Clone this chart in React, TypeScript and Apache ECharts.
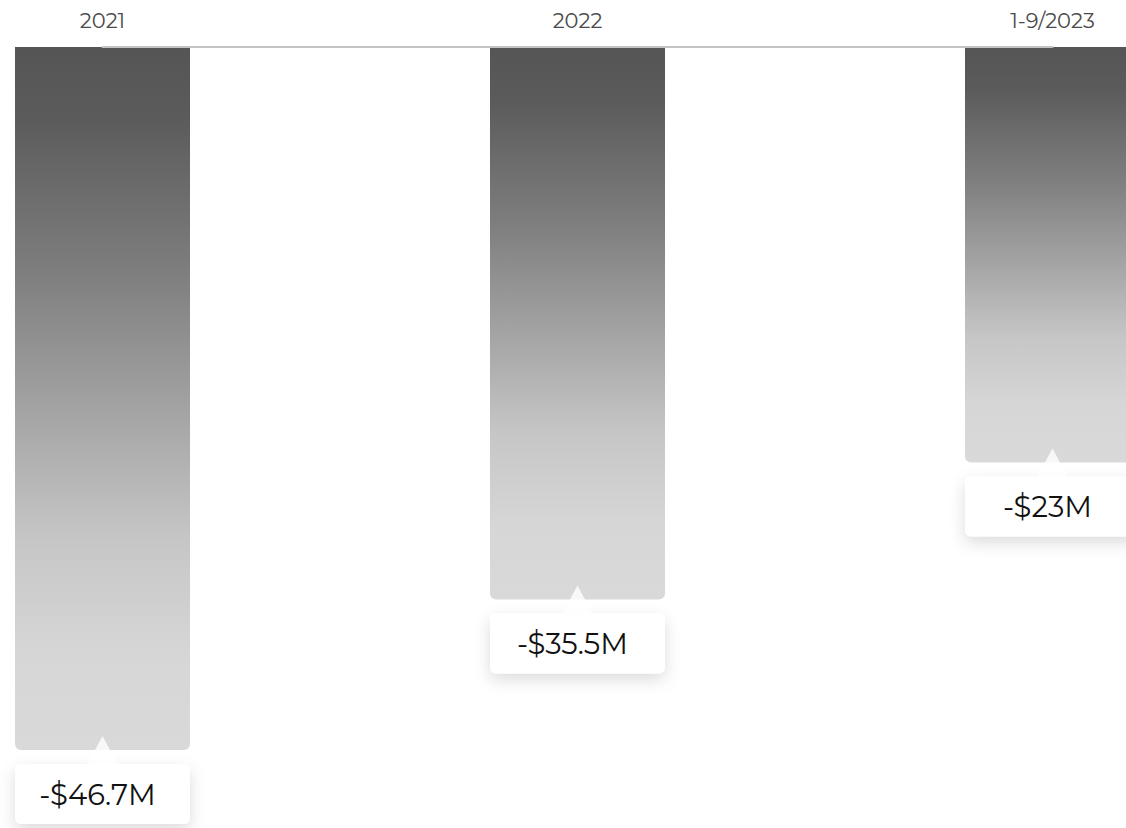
import React, { useEffect, useRef } from "react";
import * as echarts from "echarts";

const categories = ["2021", "2022", "1-9/2023"];
// amounts shown in the labels ($M)
const labelValues = [-46.7, -35.5, -23];
// bar lengths as drawn in the picture (on the same $M axis)
const barValues = [-46.7, -36.7, -27.6];

const FONT = "Montserrat, 'Noto Sans', sans-serif";

export default function App() {
  const ref = useRef<HTMLDivElement>(null);
  useEffect(() => {
    if (!ref.current) return;
    const chart = echarts.init(ref.current, undefined, { renderer: "svg" });
    const gradient = new echarts.graphic.LinearGradient(0, 0, 0, 1, [
      { offset: 0, color: "#555555" },
      { offset: 0.1, color: "#5b5b5b" },
      { offset: 0.32, color: "#7e7e7e" },
      { offset: 0.52, color: "#a4a4a4" },
      { offset: 0.7, color: "#c6c6c6" },
      { offset: 0.86, color: "#d6d6d6" },
      { offset: 1, color: "#d9d9d9" },
    ]);
    chart.setOption({
      animation: false,
      grid: { left: 102.5, right: 73.5, top: 47, bottom: 78 },
      xAxis: {
        type: "category",
        data: categories,
        position: "top",
        boundaryGap: false,
        z: 5,
        axisLine: { onZero: false, lineStyle: { color: "#c4c4c4", width: 2 } },
        axisTick: { show: false },
        axisLabel: {
          color: "#4a4a4a",
          fontSize: 21,
          fontFamily: FONT,
          margin: 16,
          interval: 0,
        },
      },
      yAxis: {
        type: "value",
        min: -46.7,
        max: 0,
        show: false,
        splitLine: { show: false },
      },
      series: [
        {
          type: "bar",
          data: barValues,
          barWidth: 175,
          itemStyle: { color: gradient, borderRadius: [0, 0, 6, 6] },
          label: {
            show: true,
            position: "bottom",
            distance: 14,
            formatter: (p: any) => {
              const v = labelValues[p.dataIndex];
              return "-$" + Math.abs(v) + "M";
            },
            color: "#111111",
            fontSize: 29,
            fontFamily: FONT,
            width: 165,
            align: "center",
            lineHeight: 30,
            padding: [15, 10, 15, 0],
            backgroundColor: "#ffffff",
            borderRadius: 6,
            shadowColor: "rgba(0,0,0,0.14)",
            shadowBlur: 16,
            shadowOffsetY: 6,
          },
          z: 2,
        },
        {
          type: "scatter",
          data: barValues,
          symbol: "triangle",
          symbolSize: [30, 28],
          itemStyle: { color: "#ffffff" },
          z: 4,
          silent: true,
        },
      ],
    });
    return () => chart.dispose();
  }, []);
  return (
    <div
      ref={ref}
      style={{ position: "absolute", left: 0, top: 0, width: 1126, height: 828, background: "#fff" }}
    />
  );
}
